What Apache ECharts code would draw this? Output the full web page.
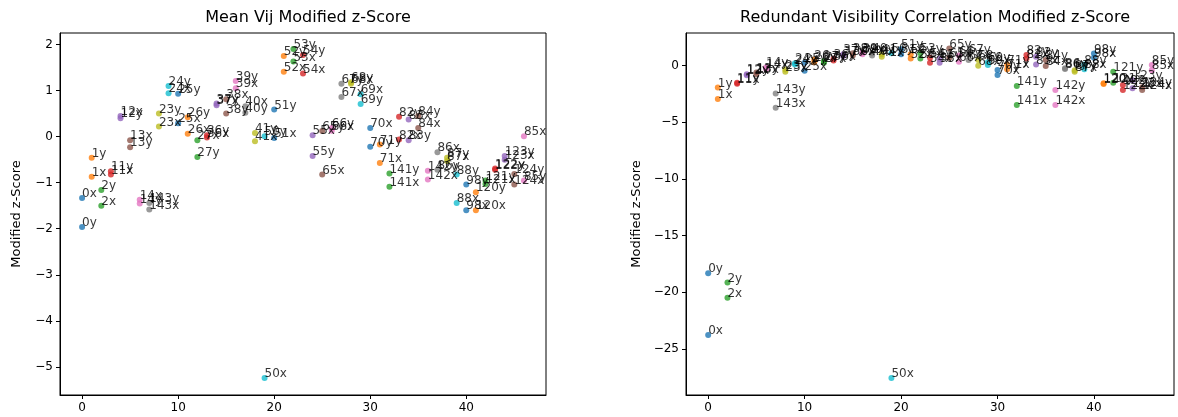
<!DOCTYPE html>
<html>
<head>
<meta charset="utf-8">
<title>Modified z-Score</title>
<script src="https://cdn.jsdelivr.net/npm/echarts@6/dist/echarts.min.js"></script>
<style>
  html, body { margin: 0; padding: 0; background: #ffffff; }
  #container { width: 1178px; height: 417px; }
</style>
</head>
<body>
<div id="container"></div>
<script>
// antenna numbers, in the order they are plotted (array index = x position)
const antennas = [0, 1, 2, 11, 12, 13, 14, 143, 23, 24, 25, 26, 27, 36, 37, 38, 39, 40, 41,
  50, 51, 52, 53, 54, 55, 65, 66, 67, 68, 69, 70, 71, 141, 82, 83, 84, 142, 86, 87, 88,
  98, 120, 121, 122, 123, 124, 85]

// Mean Vij modified z-score, x and y polarisation
const meanVijX = [-1.33, -0.87, -1.50, -0.82, 0.45, -0.08, -1.37, -1.58, 0.22, 0.94, 0.29, 0.06, -0.08,
  -0.02, 0.68, 0.81, 1.05, 0.66, -0.10, -5.24, -0.03, 1.41, 1.63, 1.37, 0.03, -0.82, 0.13,
  0.86, 1.15, 0.92, 0.19, -0.57, -1.09, -0.06, 0.37, 0.19, -0.93, -0.34, -0.53, -1.44,
  -1.60, -1.60, -1.03, -0.72, -0.50, -1.04, 0.01]
const meanVijY = [-1.96, -0.46, -1.16, -0.75, 0.40, -0.23, -1.45, -1.44, 0.50, 1.10, 0.93, 0.42, -0.44,
  0.03, 0.72, 0.50, 1.21, 0.52, 0.08, 0.01, 0.59, 1.75, 1.90, 1.77, -0.42, 0.12, 0.19,
  1.15, 1.18, 0.71, -0.22, -0.17, -0.80, 0.43, -0.08, 0.45, -0.74, -0.72, -0.46, -0.82,
  -1.04, -1.21, -0.95, -0.69, -0.42, -0.81, -0.95]

// redundant visibility correlation modified z-score, x and y polarisation
const rvcX = [-23.78, -2.95, -20.48, -1.60, -0.85, -0.75, -0.30, -3.71, -0.55, 0.10, -0.45, 0.30, 0.26,
  0.45, 0.85, 0.90, 1.00, 0.90, 0.79, -27.57, 1.00, 0.64, 0.64, 0.26, 0.26, 0.70, 0.35,
  0.50, 0.00, 0.05, -0.83, -0.33, -3.48, 0.64, 0.11, -0.04, -3.48, -0.30, -0.53, -0.33,
  0.70, -1.62, -1.51, -2.15, -2.00, -2.15, -0.40]
const rvcY = [-18.33, -1.92, -19.13, -1.50, -0.75, -0.60, -0.15, -2.45, -0.35, 0.20, 0.25, 0.55, 0.40,
  0.60, 1.00, 1.10, 1.15, 1.10, 1.00, 1.10, 1.45, 1.00, 1.10, 0.70, 0.60, 1.52, 0.90,
  1.00, 0.50, 0.30, -0.39, 0.10, -1.80, 0.94, 0.79, 0.49, -2.15, -0.24, -0.40, 0.10,
  1.08, -1.55, -0.53, -1.71, -1.30, -1.90, 0.05]

const xTicks = [0, 10, 20, 30, 40]
const meanVijTicks = [-5, -4, -3, -2, -1, 0, 1, 2]
const rvcTicks = [-25, -20, -15, -10, -5, 0]

// matplotlib default colour cycle, one colour per antenna
const tab10 = ['#1f77b4', '#ff7f0e', '#2ca02c', '#d62728', '#9467bd',
  '#8c564b', '#e377c2', '#7f7f7f', '#bcbd22', '#17becf']

const font = 'DejaVu Sans'

function buildPoints (xs, ys) {
  const pts = []
  antennas.forEach((ant, i) => {
    const color = tab10[i % 10]
    pts.push({ name: ant + 'x', value: [i, xs[i]], itemStyle: { color: color } })
    pts.push({ name: ant + 'y', value: [i, ys[i]], itemStyle: { color: color } })
  })
  return pts
}

function minusSign (v) {
  return String(v).replace('-', '\u2212')
}

function xAxisOf (gridIndex) {
  return {
    gridIndex: gridIndex,
    type: 'value',
    min: -2.3,
    max: 48.3,
    splitLine: { show: false },
    axisLine: { onZero: false, lineStyle: { color: '#000', width: 1 } },
    axisTick: { customValues: xTicks, length: 4, lineStyle: { color: '#000' } },
    axisLabel: { customValues: xTicks, color: '#000', fontFamily: font, fontSize: 12, margin: 7, formatter: minusSign }
  }
}

function yAxisOf (gridIndex, min, max, ticks, gap) {
  return {
    gridIndex: gridIndex,
    type: 'value',
    min: min,
    max: max,
    name: 'Modified z-Score',
    nameLocation: 'middle',
    nameRotate: 90,
    nameGap: gap,
    nameTextStyle: { color: '#000', fontFamily: font, fontSize: 13 },
    splitLine: { show: false },
    axisLine: { onZero: false, lineStyle: { color: '#000', width: 1 } },
    axisTick: { customValues: ticks, length: 4, lineStyle: { color: '#000' } },
    axisLabel: { customValues: ticks, color: '#000', fontFamily: font, fontSize: 12, margin: 7, formatter: minusSign }
  }
}

function seriesOf (index, points) {
  return {
    type: 'scatter',
    xAxisIndex: index,
    yAxisIndex: index,
    symbol: 'circle',
    symbolSize: 6,
    data: points,
    label: {
      show: true,
      formatter: '{b}',
      position: [3, 5],
      align: 'left',
      verticalAlign: 'bottom',
      color: '#000',
      fontFamily: font,
      fontSize: 12
    },
    emphasis: { disabled: true }
  }
}

const option = {
  animation: false,
  backgroundColor: '#ffffff',
  title: [
    {
      text: 'Mean Vij Modified z-Score',
      left: 303,
      top: 5,
      textAlign: 'center',
      textStyle: { color: '#000', fontFamily: font, fontSize: 16, fontWeight: 'normal' }
    },
    {
      text: 'Redundant Visibility Correlation Modified z-Score',
      left: 930,
      top: 5,
      textAlign: 'center',
      textStyle: { color: '#000', fontFamily: font, fontSize: 16, fontWeight: 'normal' }
    }
  ],
  grid: [
    { left: 60, width: 486, top: 33, height: 362, show: true, borderColor: '#000', borderWidth: 1 },
    { left: 686, width: 488, top: 33, height: 362, show: true, borderColor: '#000', borderWidth: 1 }
  ],
  xAxis: [xAxisOf(0), xAxisOf(1)],
  yAxis: [
    yAxisOf(0, -5.61, 2.25, meanVijTicks, 37),
    yAxisOf(1, -29.07, 2.88, rvcTicks, 43)
  ],
  series: [
    seriesOf(0, buildPoints(meanVijX, meanVijY)),
    seriesOf(1, buildPoints(rvcX, rvcY))
  ]
}

const myChart = echarts.init(document.getElementById('container'))
myChart.setOption(option)
</script>
</body>
</html>
